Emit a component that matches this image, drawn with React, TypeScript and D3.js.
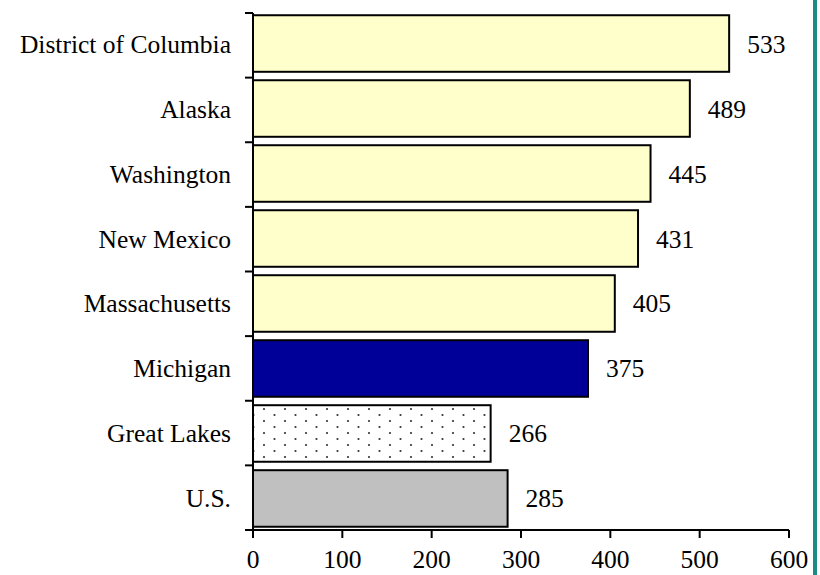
import React from "react";
import * as d3 from "d3";

const categories = [
  "District of Columbia",
  "Alaska",
  "Washington",
  "New Mexico",
  "Massachusetts",
  "Michigan",
  "Great Lakes",
  "U.S.",
];
const values = [533, 489, 445, 431, 405, 375, 266, 285];
const fills = [
  "#FFFFCC",
  "#FFFFCC",
  "#FFFFCC",
  "#FFFFCC",
  "#FFFFCC",
  "#000099",
  "url(#dots)",
  "#C0C0C0",
];
const xTicks = [0, 100, 200, 300, 400, 500, 600];

const W = 820;
const H = 575;
const FONT = { fontFamily: "Liberation Serif", fontSize: 25.5 };

export default function App() {
  const x = d3.scaleLinear().domain([0, 600]).range([253, 789]);
  // bar placement
  const y = d3
    .scaleBand<string>()
    .domain(categories)
    .range([12, 530])
    .paddingInner(0.13)
    .paddingOuter(0.05);
  // category tick marks between bands
  const edges = d3
    .scaleBand<string>()
    .domain(categories)
    .range([13, 530]);
  const bandEdges = d3.range(categories.length + 1).map((i) => 13 + i * edges.step());

  return (
    <div style={{ position: "absolute", left: 0, top: 0 }}>
      <svg width={W} height={H}>
        <defs>
          <pattern id="dots" width={21} height={12} patternUnits="userSpaceOnUse" x={259} y={406}>
            <rect width={21} height={12} fill="#fff" />
            <circle cx={5} cy={3} r={1.1} fill="#333" />
            <circle cx={15.5} cy={9} r={1.1} fill="#333" />
          </pattern>
        </defs>

        {/* bars */}
        {categories.map((c, i) => (
          <rect
            key={"bar-" + c}
            x={x(0)}
            y={y(c)!}
            width={x(values[i]) - x(0)}
            height={y.bandwidth()}
            fill={fills[i]}
            stroke="#000"
            strokeWidth={2}
          />
        ))}

        {/* value labels */}
        {categories.map((c, i) => (
          <text
            key={"val-" + c}
            x={x(values[i]) + 18}
            y={y(c)! + y.bandwidth() / 2 + 9}
            style={FONT}
          >
            {values[i]}
          </text>
        ))}

        {/* category axis */}
        <line x1={x(0)} x2={x(0)} y1={bandEdges[0]} y2={530} stroke="#000" strokeWidth={2} />
        {bandEdges.map((e, i) => (
          <line key={"yt-" + i} x1={x(0) - 8} x2={x(0)} y1={e} y2={e} stroke="#000" strokeWidth={2} />
        ))}
        {categories.map((c) => (
          <text
            key={"cat-" + c}
            x={231}
            y={y(c)! + y.bandwidth() / 2 + 9}
            textAnchor="end"
            style={FONT}
          >
            {c}
          </text>
        ))}

        {/* value axis */}
        <line x1={x(0)} x2={x(600)} y1={530} y2={530} stroke="#000" strokeWidth={2} />
        {xTicks.map((t) => (
          <line key={"xt-" + t} x1={x(t)} x2={x(t)} y1={530} y2={538} stroke="#000" strokeWidth={2} />
        ))}
        {xTicks.map((t) => (
          <text key={"xl-" + t} x={x(t)} y={568} textAnchor="middle" style={FONT}>
            {t}
          </text>
        ))}

        {/* right border rule */}
        <line x1={815} x2={815} y1={0} y2={H} stroke="#1A8C84" strokeWidth={4} />
      </svg>
    </div>
  );
}
